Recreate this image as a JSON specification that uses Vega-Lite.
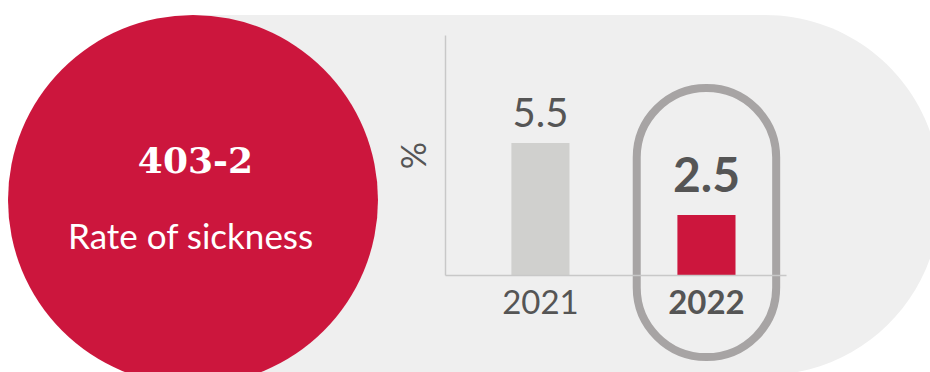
{
  "$schema": "https://vega.github.io/schema/vega-lite/v6.json",
  "width": 341,
  "height": 240,
  "autosize": {"type": "none"},
  "padding": {"left": 445, "top": 35, "right": 144, "bottom": 97},
  "background": "white",
  "config": {"view": {"stroke": null}, "font": "Lato"},
  "data": {"values": [{"year": "2021", "value": 5.5}, {"year": "2022", "value": 2.5}]},
  "resolve": {"scale": {"x": "independent", "y": "independent"}, "axis": {"x": "independent", "y": "independent"}},
  "layer": [
    {
      "data": {"values": [{"code": "403-2", "label": "Rate of sickness"}]},
      "layer": [
        {
          "mark": {"type": "rect", "color": "#efefef", "cornerRadiusTopRight": 175, "cornerRadiusBottomRight": 175, "clip": false},
          "encoding": {
            "x": {"datum": -10.5, "type": "quantitative", "scale": {"domain": [0, 14.2083], "nice": false, "zero": false}, "axis": null},
            "x2": {"datum": 20.625},
            "y": {"datum": 10.833, "type": "quantitative", "scale": {"domain": [0, 10], "nice": false}, "axis": null},
            "y2": {"datum": -4.167}
          }
        },
        {
          "mark": {"type": "circle", "size": 136900, "color": "#cc163d", "opacity": 1, "clip": false},
          "encoding": {
            "x": {"datum": -10.5, "type": "quantitative", "scale": {"domain": [0, 14.2083], "nice": false, "zero": false}, "axis": null},
            "y": {"datum": 3.125, "type": "quantitative", "scale": {"domain": [0, 10], "nice": false}, "axis": null}
          }
        },
        {
          "mark": {"type": "text", "font": "DejaVu Serif", "fontWeight": "bold", "fontSize": 36, "color": "white", "align": "center", "baseline": "alphabetic", "clip": false},
          "encoding": {
            "x": {"datum": -10.4, "type": "quantitative", "scale": {"domain": [0, 14.2083], "nice": false, "zero": false}, "axis": null},
            "y": {"datum": 4.25, "type": "quantitative", "scale": {"domain": [0, 10], "nice": false}, "axis": null},
            "text": {"field": "code"}
          }
        },
        {
          "mark": {"type": "text", "font": "Lato", "fontSize": 35, "color": "white", "align": "center", "baseline": "alphabetic", "clip": false},
          "encoding": {
            "x": {"datum": -10.6, "type": "quantitative", "scale": {"domain": [0, 14.2083], "nice": false, "zero": false}, "axis": null},
            "y": {"datum": 1.083, "type": "quantitative", "scale": {"domain": [0, 10], "nice": false}, "axis": null},
            "text": {"field": "label"}
          }
        }
      ]
    },
    {
      "layer": [
        {
          "mark": {"type": "bar", "clip": false},
          "encoding": {
            "x": {
              "field": "year", "type": "nominal",
              "scale": {"paddingInner": 0.65, "paddingOuter": 0.352, "align": 0.568},
              "axis": {
                "title": null, "labelAngle": 0, "ticks": false, "domainColor": "#c8c8c8", "domainWidth": 1.5,
                "labelFontSize": 33, "labelColor": "#555555", "labelPadding": 12, "labelFont": "Lato",
                "labelFontWeight": {"condition": {"test": "datum.value === '2022'", "value": "bold"}, "value": "normal"},
                "zindex": 2
              }
            },
            "y": {
              "field": "value", "type": "quantitative",
              "scale": {"domain": [0, 10], "nice": false},
              "axis": {
                "title": "%", "labels": false, "ticks": false, "grid": false, "domainColor": "#c8c8c8", "domainWidth": 1.5,
                "titleFontSize": 34, "titleColor": "#555555", "titleFontWeight": "normal", "titleFont": "Lato", "titlePadding": 13,
                "zindex": 2
              }
            },
            "color": {"condition": {"test": "datum.year === '2022'", "value": "#cc163d"}, "value": "#d0d0ce"}
          }
        },
        {
          "transform": [{"filter": "datum.year === '2022'"}],
          "mark": {"type": "bar", "width": {"band": 2.4}, "cornerRadius": 69.5, "fillOpacity": 0, "stroke": "#a7a4a4", "strokeWidth": 8, "clip": false},
          "encoding": {
            "x": {"field": "year", "type": "nominal"},
            "y": {"datum": 7.79, "type": "quantitative"},
            "y2": {"datum": -3.42}
          }
        },
        {
          "transform": [{"filter": "datum.year === '2021'"}],
          "mark": {"type": "text", "fontSize": 40, "font": "Lato", "color": "#555555", "baseline": "alphabetic", "dy": -16, "clip": false},
          "encoding": {
            "x": {"field": "year", "type": "nominal"},
            "y": {"field": "value", "type": "quantitative"},
            "text": {"field": "value", "format": ".1f"}
          }
        },
        {
          "transform": [{"filter": "datum.year === '2022'"}],
          "mark": {"type": "text", "fontSize": 48, "font": "Lato", "fontWeight": "bold", "color": "#555555", "baseline": "alphabetic", "dy": -23, "clip": false},
          "encoding": {
            "x": {"field": "year", "type": "nominal"},
            "y": {"field": "value", "type": "quantitative"},
            "text": {"field": "value", "format": ".1f"}
          }
        }
      ]
    }
  ]
}
